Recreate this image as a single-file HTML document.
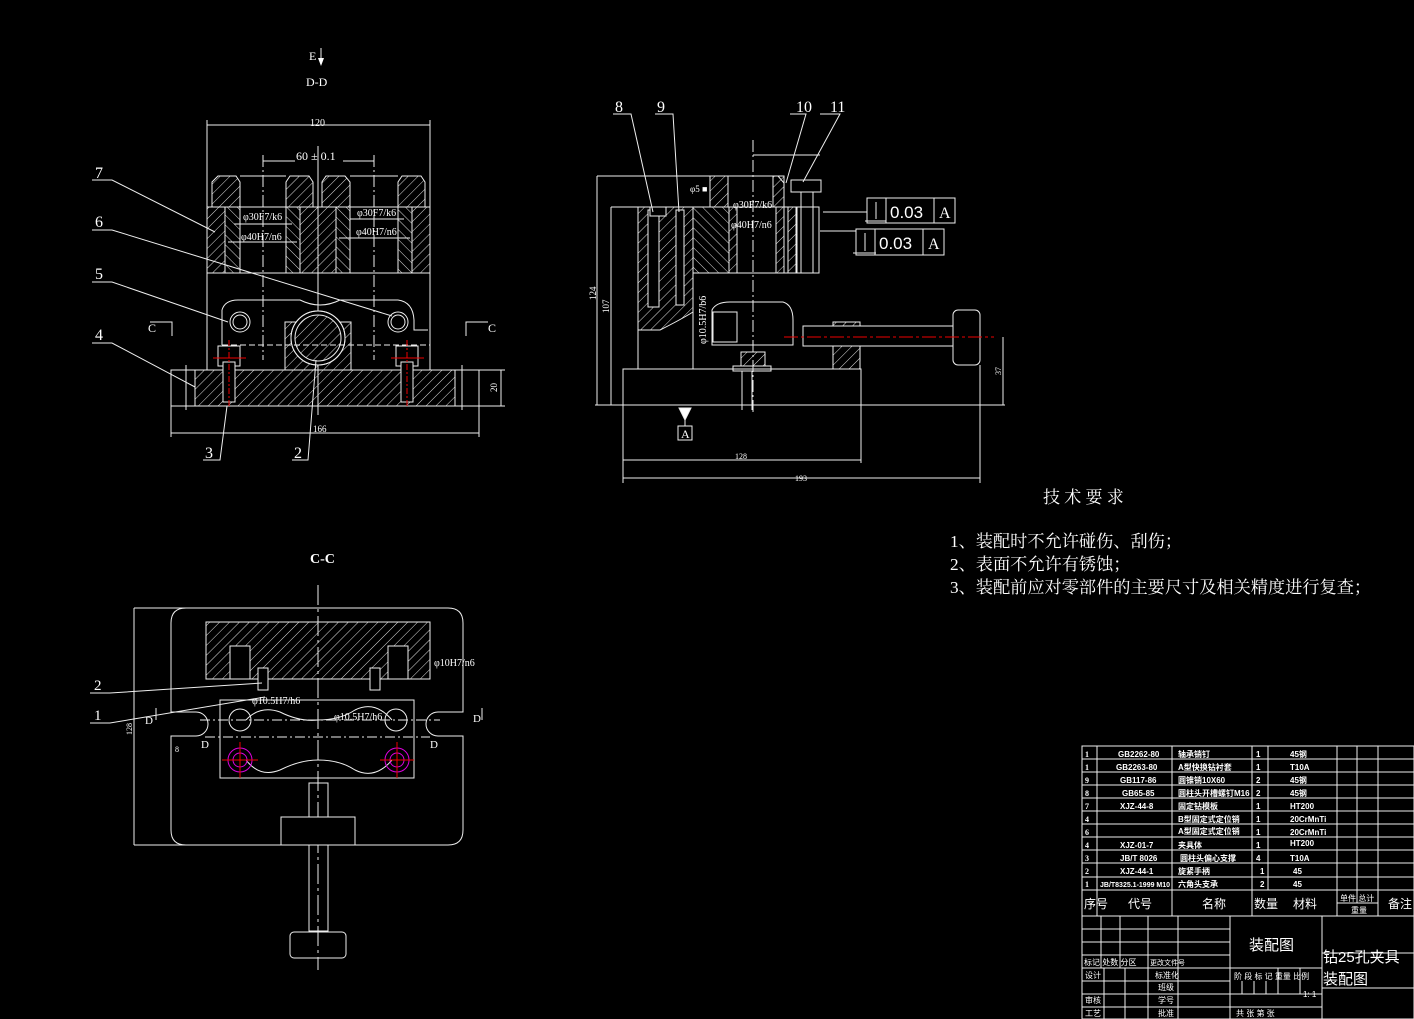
<!DOCTYPE html>
<html><head><meta charset="utf-8"><style>
html,body{margin:0;padding:0;background:#000;}
svg{display:block;}
text{font-family:"Liberation Serif","Noto Serif CJK SC",serif;fill:#fff;}
.s{font-family:"Liberation Sans","Noto Sans CJK SC",sans-serif;}
.t{font-family:"Liberation Serif","Noto Serif CJK SC",serif;}
</style></head><body>
<svg width="1414" height="1019" viewBox="0 0 1414 1019" xmlns="http://www.w3.org/2000/svg">
<defs>
<pattern id="h" width="7" height="7" patternUnits="userSpaceOnUse" patternTransform="rotate(45)"><line x1="0" y1="0" x2="0" y2="7" stroke="#ddd" stroke-width="1"/></pattern>
<pattern id="h2" width="7" height="7" patternUnits="userSpaceOnUse" patternTransform="rotate(-45)"><line x1="0" y1="0" x2="0" y2="7" stroke="#ddd" stroke-width="1"/></pattern>
</defs>
<rect width="1414" height="1019" fill="#000"/>
<g stroke="#eee" stroke-width="1" fill="none">
<!-- ===== Top-left view D-D ===== -->
<line x1="207" y1="120" x2="207" y2="207"/><line x1="430" y1="120" x2="430" y2="207"/>
<line x1="207" y1="125" x2="430" y2="125"/>
<line x1="263" y1="155" x2="263" y2="360" stroke-dasharray="12,3,2,3"/><line x1="374" y1="155" x2="374" y2="360" stroke-dasharray="12,3,2,3"/>
<line x1="263" y1="161" x2="295" y2="161"/><line x1="343" y1="161" x2="374" y2="161"/>
<line x1="318" y1="146" x2="318" y2="415"/>
<path d="M212,207 L212,182 L218,176 L236,176 L240,182 L240,207 Z" fill="url(#h)"/>
<path d="M286,207 L286,182 L290,176 L309,176 L313,182 L313,207 Z" fill="url(#h)"/>
<path d="M322,207 L322,182 L326,176 L345,176 L350,182 L350,207 Z" fill="url(#h)"/>
<path d="M398,207 L398,182 L402,176 L421,176 L425,182 L425,207 Z" fill="url(#h)"/>
<line x1="240" y1="176" x2="286" y2="176"/><line x1="350" y1="176" x2="398" y2="176"/>
<rect x="207" y="207" width="223" height="66"/>
<rect x="207" y="207" width="18" height="66" fill="url(#h)"/>
<rect x="225" y="207" width="15" height="66" fill="url(#h2)"/>
<rect x="286" y="207" width="14" height="66" fill="url(#h2)"/>
<rect x="300" y="207" width="36" height="66" fill="url(#h)"/>
<rect x="336" y="207" width="14" height="66" fill="url(#h2)"/>
<rect x="398" y="207" width="14" height="66" fill="url(#h2)"/>
<rect x="412" y="207" width="18" height="66" fill="url(#h)"/>
<line x1="234" y1="224" x2="292" y2="224"/><line x1="350" y1="219" x2="404" y2="219"/>
<line x1="228" y1="242" x2="297" y2="242"/><line x1="339" y1="238" x2="410" y2="238"/>
<line x1="207" y1="273" x2="207" y2="370"/><line x1="430" y1="273" x2="430" y2="370"/>
<path d="M222,345 L222,310 Q225,300 238,300 L300,300 Q310,305 320,305 Q330,305 340,300 L398,300 Q413,302 414,320 L414,330 L428,330"/>
<circle cx="240" cy="322" r="10"/><circle cx="240" cy="322" r="7"/>
<circle cx="398" cy="322" r="10"/><circle cx="398" cy="322" r="7"/>
<rect x="285" y="322" width="66" height="48" fill="url(#h)"/>
<circle cx="318" cy="338" r="27" fill="#000"/><circle cx="318" cy="338" r="27"/><circle cx="318" cy="338" r="23" fill="url(#h)"/>
<line x1="222" y1="345" x2="430" y2="345" stroke-dasharray="6,3"/>
<rect x="171" y="370" width="308" height="36"/>
<rect x="195" y="370" width="260" height="36" fill="url(#h)"/>
<rect x="218" y="346" width="22" height="20" fill="#000"/><rect x="218" y="346" width="22" height="20"/>
<rect x="396" y="346" width="22" height="20" fill="#000"/><rect x="396" y="346" width="22" height="20"/>
<rect x="223" y="362" width="12" height="40" fill="#000"/><rect x="401" y="362" width="12" height="40" fill="#000"/>
<rect x="223" y="362" width="12" height="40"/><rect x="401" y="362" width="12" height="40"/>
<line x1="229" y1="340" x2="229" y2="408" stroke="#e00" stroke-dasharray="6,2,2,2"/><line x1="407" y1="340" x2="407" y2="408" stroke="#e00" stroke-dasharray="6,2,2,2"/>
<line x1="213" y1="358" x2="246" y2="358" stroke="#e00"/><line x1="391" y1="358" x2="424" y2="358" stroke="#e00"/>
<line x1="171" y1="406" x2="171" y2="437"/><line x1="479" y1="406" x2="479" y2="437"/>
<line x1="171" y1="433" x2="479" y2="433"/>
<line x1="186" y1="365" x2="186" y2="410"/><line x1="462" y1="365" x2="462" y2="410"/>
<line x1="479" y1="370" x2="505" y2="370"/><line x1="479" y1="406" x2="505" y2="406"/><line x1="501" y1="370" x2="501" y2="406"/>
<polyline points="92,180 112,180 215,232"/>
<polyline points="92,230 112,230 392,316"/>
<polyline points="92,282 112,282 228,322"/>
<polyline points="92,343 112,343 195,387"/>
<polyline points="203,460 220,460 227,406"/>
<polyline points="292,460 308,460 316,360"/>
<polyline points="150,322 172,322 172,336"/><polyline points="488,322 466,322 466,336"/>
<line x1="321" y1="48" x2="321" y2="62"/>
<!-- ===== Right view ===== -->
<line x1="597" y1="176" x2="597" y2="405"/><line x1="597" y1="176" x2="720" y2="176"/>
<line x1="611" y1="207" x2="611" y2="405"/><line x1="611" y1="207" x2="640" y2="207"/>
<line x1="595" y1="405" x2="1005" y2="405"/>
<rect x="623" y="369" width="238" height="36"/>
<line x1="623" y1="405" x2="623" y2="483"/><line x1="861" y1="405" x2="861" y2="463"/><line x1="980" y1="365" x2="980" y2="483"/>
<line x1="623" y1="460" x2="861" y2="460"/><line x1="623" y1="478" x2="980" y2="478"/>
<line x1="1003" y1="337" x2="1003" y2="405"/>
<path d="M638,207 L693,207 L693,312 Q680,320 660,330 L638,330 Z" fill="url(#h)"/>
<line x1="638" y1="330" x2="638" y2="369"/><line x1="693" y1="312" x2="693" y2="369"/>
<rect x="648" y="210" width="11" height="97" fill="#000"/><rect x="648" y="210" width="11" height="97"/>
<rect x="650" y="207" width="16" height="9" fill="#000"/><rect x="650" y="207" width="16" height="9"/>
<rect x="676" y="210" width="8" height="95" fill="#000"/><rect x="676" y="210" width="8" height="95"/>
<rect x="693" y="207" width="126" height="66"/>
<rect x="693" y="207" width="36" height="66" fill="url(#h2)"/>
<rect x="729" y="207" width="8" height="66" fill="url(#h)"/>
<rect x="776" y="207" width="8" height="66" fill="url(#h)"/>
<path d="M710,207 L710,176 L778,176 L784,183 L784,207" />
<rect x="710" y="176" width="18" height="31" fill="url(#h)"/><rect x="773" y="176" width="11" height="31" fill="url(#h)"/>
<rect x="784" y="207" width="35" height="66" fill="#000"/>
<rect x="788" y="207" width="8" height="66" fill="url(#h)"/><rect x="797" y="207" width="22" height="66"/>
<rect x="791" y="180" width="30" height="12"/><line x1="801" y1="192" x2="801" y2="273"/><line x1="813" y1="192" x2="813" y2="273"/>
<line x1="753" y1="140" x2="753" y2="415" stroke-dasharray="12,3,2,3"/>
<line x1="753" y1="155" x2="820" y2="155"/>
<line x1="823" y1="212" x2="867" y2="212"/><line x1="820" y1="231" x2="856" y2="231"/>
<rect x="867" y="198" width="88" height="25"/><line x1="886" y1="198" x2="886" y2="223"/><line x1="934" y1="198" x2="934" y2="223"/>
<rect x="856" y="229" width="88" height="26"/><line x1="875" y1="229" x2="875" y2="255"/><line x1="923" y1="229" x2="923" y2="255"/>
<line x1="876" y1="202" x2="876" y2="219"/><line x1="865" y1="221" x2="886" y2="221"/>
<line x1="865" y1="233" x2="865" y2="251"/><line x1="853" y1="253" x2="876" y2="253"/>
<path d="M712,345 L712,310 Q716,302 730,302 L783,302 Q793,305 793,320 L793,345 Z"/>
<rect x="713" y="312" width="24" height="30"/>
<rect x="803" y="326" width="150" height="20"/>
<rect x="833" y="322" width="27" height="4" fill="url(#h)"/><rect x="833" y="346" width="27" height="23" fill="url(#h)"/>
<rect x="953" y="310" width="27" height="55" rx="5"/>
<line x1="784" y1="337" x2="994" y2="337" stroke="#e00" stroke-dasharray="14,3,3,3"/>
<rect x="741" y="352" width="24" height="14" fill="url(#h)"/><rect x="733" y="366" width="38" height="5"/>
<line x1="742" y1="371" x2="742" y2="410"/><line x1="752" y1="371" x2="752" y2="410"/>
<polyline points="613,114 631,114 653,212"/><polyline points="655,114 673,114 679,212"/>
<polyline points="790,114 806,114 786,183"/><polyline points="820,114 840,114 803,182"/>
<path d="M679,408 L691,408 L685,420 Z" fill="#fff"/><line x1="685" y1="420" x2="685" y2="426"/><rect x="678" y="426" width="14" height="14"/>
<!-- ===== Bottom view C-C ===== -->
<line x1="318" y1="585" x2="318" y2="970" stroke-dasharray="20,4,3,4"/>
<path d="M186,608 L448,608 Q463,608 463,623 L463,712 L438,712 A12,12 0 0 0 438,736 L463,736 L463,830 Q463,845 448,845 L186,845 Q171,845 171,830 L171,736 L196,736 A12,12 0 0 0 196,712 L171,712 L171,623 Q171,608 186,608 Z"/>
<line x1="134" y1="608" x2="186" y2="608"/><line x1="134" y1="845" x2="186" y2="845"/><line x1="134" y1="608" x2="134" y2="845"/>
<rect x="206" y="622" width="224" height="57" fill="url(#h)"/>
<rect x="230" y="646" width="20" height="33" fill="#000"/><rect x="230" y="646" width="20" height="33"/>
<rect x="388" y="646" width="20" height="33" fill="#000"/><rect x="388" y="646" width="20" height="33"/>
<rect x="258" y="668" width="10" height="22" fill="#000"/><rect x="258" y="668" width="10" height="22"/>
<rect x="370" y="668" width="10" height="22" fill="#000"/><rect x="370" y="668" width="10" height="22"/>
<path d="M220,700 L414,700 L414,778 L220,778 Z"/>
<path d="M246,720 Q260,705 280,712 Q300,722 318,720 Q340,720 355,710 Q375,700 392,720"/>
<path d="M246,760 Q260,778 280,770 Q300,760 318,760 Q340,760 355,770 Q375,780 392,760"/>
<circle cx="240" cy="720" r="11"/><circle cx="396" cy="720" r="11"/>
<circle cx="240" cy="760" r="12" stroke="#d0d"/><circle cx="240" cy="760" r="7" stroke="#d0d"/>
<circle cx="397" cy="760" r="12" stroke="#d0d"/><circle cx="397" cy="760" r="7" stroke="#d0d"/>
<line x1="222" y1="760" x2="258" y2="760" stroke="#e00"/><line x1="240" y1="742" x2="240" y2="778" stroke="#e00"/>
<line x1="380" y1="760" x2="414" y2="760" stroke="#e00"/><line x1="397" y1="742" x2="397" y2="778" stroke="#e00"/>
<line x1="205" y1="737" x2="430" y2="737" stroke-dasharray="10,3,2,3"/>
<line x1="200" y1="720" x2="440" y2="720" stroke-dasharray="10,3,2,3"/>
<rect x="309" y="783" width="19" height="148"/>
<rect x="281" y="817" width="74" height="28" fill="#000"/><rect x="281" y="817" width="74" height="28"/>
<rect x="290" y="932" width="56" height="26" rx="4"/>
<polyline points="90,693 110,693 262,683"/><polyline points="90,723 110,723 265,697"/>
<polyline points="156,720 156,708"/><polyline points="482,720 482,708"/>
<rect x="1082" y="746" width="332" height="273"/>
</g>
<path d="M318,58 L324,58 L321,66 Z" fill="#fff"/>
<g stroke="#eee" stroke-width="1">
<line x1="1082" y1="759" x2="1337" y2="759"/><line x1="1082" y1="772" x2="1337" y2="772"/><line x1="1082" y1="785" x2="1337" y2="785"/><line x1="1082" y1="798" x2="1337" y2="798"/><line x1="1082" y1="811" x2="1337" y2="811"/><line x1="1082" y1="824" x2="1337" y2="824"/><line x1="1082" y1="837" x2="1337" y2="837"/><line x1="1082" y1="850" x2="1337" y2="850"/><line x1="1082" y1="863" x2="1337" y2="863"/><line x1="1082" y1="877" x2="1337" y2="877"/><line x1="1082" y1="890" x2="1414" y2="890"/>
<line x1="1337" y1="759" x2="1414" y2="759"/><line x1="1337" y1="772" x2="1414" y2="772"/><line x1="1337" y1="785" x2="1414" y2="785"/><line x1="1337" y1="798" x2="1414" y2="798"/><line x1="1337" y1="811" x2="1414" y2="811"/><line x1="1337" y1="824" x2="1414" y2="824"/><line x1="1337" y1="837" x2="1414" y2="837"/><line x1="1337" y1="850" x2="1414" y2="850"/><line x1="1337" y1="863" x2="1414" y2="863"/><line x1="1337" y1="877" x2="1414" y2="877"/>
<line x1="1082" y1="916" x2="1414" y2="916"/><line x1="1337" y1="903" x2="1378" y2="903"/>
<line x1="1097" y1="746" x2="1097" y2="916"/><line x1="1172" y1="746" x2="1172" y2="916"/><line x1="1252" y1="746" x2="1252" y2="916"/><line x1="1268" y1="746" x2="1268" y2="890"/><line x1="1337" y1="746" x2="1337" y2="916"/><line x1="1357" y1="746" x2="1357" y2="903"/><line x1="1378" y1="746" x2="1378" y2="916"/>
<line x1="1082" y1="929" x2="1230" y2="929"/><line x1="1082" y1="942" x2="1230" y2="942"/><line x1="1082" y1="955" x2="1230" y2="955"/><line x1="1082" y1="968" x2="1322" y2="968"/><line x1="1082" y1="981" x2="1230" y2="981"/><line x1="1082" y1="994" x2="1322" y2="994"/><line x1="1082" y1="1007" x2="1322" y2="1007"/>
<line x1="1322" y1="953" x2="1414" y2="953"/><line x1="1322" y1="988" x2="1414" y2="988"/>
<line x1="1101" y1="916" x2="1101" y2="968"/><line x1="1120" y1="916" x2="1120" y2="968"/><line x1="1148" y1="916" x2="1148" y2="1019"/><line x1="1178" y1="916" x2="1178" y2="1019"/><line x1="1104" y1="968" x2="1104" y2="1019"/><line x1="1125" y1="968" x2="1125" y2="1019"/>
<line x1="1230" y1="916" x2="1230" y2="1019"/><line x1="1322" y1="916" x2="1322" y2="1019"/>
<line x1="1242" y1="981" x2="1242" y2="994"/><line x1="1254" y1="981" x2="1254" y2="994"/><line x1="1266" y1="981" x2="1266" y2="994"/><line x1="1278" y1="968" x2="1278" y2="994"/><line x1="1300" y1="968" x2="1300" y2="994"/>
</g>
<g font-size="11">
<text x="309" y="60" font-size="12">E</text>
<text x="306" y="86" font-size="12">D-D</text>
<text x="310" y="126" font-size="10">120</text>
<text x="296" y="160" font-size="12">60 ± 0.1</text>
<text x="243" y="220" font-size="10">φ30F7/k6</text><text x="357" y="216" font-size="10">φ30F7/k6</text>
<text x="241" y="240" font-size="10">φ40H7/n6</text><text x="356" y="235" font-size="10">φ40H7/n6</text>
<text x="95" y="178" font-size="16">7</text><text x="95" y="227" font-size="16">6</text><text x="95" y="279" font-size="16">5</text><text x="95" y="340" font-size="16">4</text>
<text x="205" y="458" font-size="16">3</text><text x="294" y="458" font-size="16">2</text>
<text x="148" y="332" font-size="12">C</text><text x="488" y="332" font-size="12">C</text>
<text x="313" y="432" font-size="9">166</text>
<text x="497" y="392" font-size="9" transform="rotate(-90 497 392)">20</text>
<text x="615" y="112" font-size="16">8</text><text x="657" y="112" font-size="16">9</text><text x="796" y="112" font-size="16">10</text><text x="830" y="112" font-size="16">11</text>
<text x="690" y="192" font-size="9">φ5 ■</text>
<text x="733" y="208" font-size="10">φ30F7/k6</text><text x="731" y="228" font-size="10">φ40H7/n6</text>
<text x="890" y="218" font-size="17" class="s">0.03</text><text x="939" y="218" font-size="16">A</text>
<text x="879" y="249" font-size="17" class="s">0.03</text><text x="928" y="249" font-size="16">A</text>
<text x="681" y="438" font-size="12">A</text>
<text x="735" y="459" font-size="8">128</text><text x="795" y="481" font-size="8">193</text>
<text x="596" y="300" font-size="9" transform="rotate(-90 596 300)">124</text>
<text x="609" y="313" font-size="9" transform="rotate(-90 609 313)">107</text>
<text x="706" y="344" font-size="10" transform="rotate(-90 706 344)">φ10.5H7/b6</text>
<text x="1001" y="375" font-size="8" transform="rotate(-90 1001 375)">37</text>
<text x="310" y="563" font-size="14" font-weight="bold">C-C</text>
<text x="94" y="690" font-size="15">2</text><text x="94" y="720" font-size="15">1</text>
<text x="252" y="704" font-size="10">φ10.5H7/h6</text><text x="334" y="720" font-size="10">φ10.5H7/h6</text>
<text x="434" y="666" font-size="10">φ10H7/n6</text>
<text x="145" y="724" font-size="11">D</text><text x="201" y="748" font-size="11">D</text><text x="430" y="748" font-size="11">D</text><text x="473" y="722" font-size="11">D</text>
<text x="175" y="752" font-size="8">8</text>
<text x="132" y="735" font-size="8" transform="rotate(-90 132 735)">128</text>
</g>
<g>
<text x="1043" y="503" font-size="17" class="t">技 术 要 求</text>
<text x="950" y="547" font-size="17.2" class="t">1、装配时不允许碰伤、刮伤；</text>
<text x="950" y="570" font-size="17.2" class="t">2、表面不允许有锈蚀；</text>
<text x="950" y="593" font-size="17.2" class="t">3、装配前应对零部件的主要尺寸及相关精度进行复查；</text>
</g>
<g font-size="8" class="s" font-weight="bold">
<text x="1118" y="757" class="s">GB2262-80</text><text x="1178" y="757" class="s">轴承销钉</text><text x="1256" y="757" class="s">1</text><text x="1290" y="757" class="s">45钢</text>
<text x="1116" y="770" class="s">GB2263-80</text><text x="1178" y="770" class="s">A型快换钻衬套</text><text x="1256" y="770" class="s">1</text><text x="1290" y="770" class="s">T10A</text>
<text x="1120" y="783" class="s">GB117-86</text><text x="1178" y="783" class="s">圆锥销10X60</text><text x="1256" y="783" class="s">2</text><text x="1290" y="783" class="s">45钢</text>
<text x="1122" y="796" class="s">GB65-85</text><text x="1178" y="796" class="s">圆柱头开槽螺钉M16</text><text x="1256" y="796" class="s">2</text><text x="1290" y="796" class="s">45钢</text>
<text x="1120" y="809" class="s">XJZ-44-8</text><text x="1178" y="809" class="s">固定钻模板</text><text x="1256" y="809" class="s">1</text><text x="1290" y="809" class="s">HT200</text>
<text x="1178" y="822" class="s">B型固定式定位销</text><text x="1256" y="822" class="s">1</text><text x="1290" y="822" class="s">20CrMnTi</text>
<text x="1178" y="834" class="s">A型固定式定位销</text><text x="1256" y="835" class="s">1</text><text x="1290" y="835" class="s">20CrMnTi</text>
<text x="1120" y="848" class="s">XJZ-01-7</text><text x="1178" y="848" class="s">夹具体</text><text x="1256" y="848" class="s">1</text><text x="1290" y="846" class="s">HT200</text>
<text x="1120" y="861" class="s">JB/T 8026</text><text x="1180" y="861" class="s">圆柱头偏心支撑</text><text x="1256" y="861" class="s">4</text><text x="1290" y="861" class="s">T10A</text>
<text x="1120" y="874" class="s">XJZ-44-1</text><text x="1178" y="874" class="s">旋紧手柄</text><text x="1260" y="874" class="s">1</text><text x="1293" y="874" class="s">45</text>
<text x="1100" y="887" class="s" font-size="7">JB/T8325.1-1999 M10</text><text x="1178" y="887" class="s">六角头支承</text><text x="1260" y="887" class="s">2</text><text x="1293" y="887" class="s">45</text>
<text x="1085" y="757">1</text><text x="1085" y="770">1</text><text x="1085" y="783">9</text><text x="1085" y="796">8</text><text x="1085" y="809">7</text><text x="1085" y="822">4</text><text x="1085" y="835">6</text><text x="1085" y="848">4</text><text x="1085" y="861">3</text><text x="1085" y="874">2</text><text x="1085" y="887">1</text>
</g>
<g>
<text x="1084" y="908" font-size="12" class="s">序号</text><text x="1128" y="908" font-size="12" class="s">代号</text><text x="1202" y="908" font-size="12" class="s">名称</text><text x="1254" y="908" font-size="12" class="s">数量</text><text x="1293" y="908" font-size="12" class="s">材料</text>
<text x="1340" y="901" font-size="8" class="s">单件 总计</text><text x="1351" y="913" font-size="8" class="s">重量</text><text x="1388" y="908" font-size="12" class="s">备注</text>
<text x="1249" y="950" font-size="15" class="s">装配图</text>
<text x="1323" y="962" font-size="15" class="s">钻25孔夹具</text>
<text x="1323" y="984" font-size="15" class="s">装配图</text>
<text x="1084" y="965" font-size="8" class="s">标记 处数 分区</text><text x="1150" y="965" font-size="7" class="s">更改文件号</text>
<text x="1085" y="978" font-size="8" class="s">设计</text><text x="1155" y="978" font-size="8" class="s">标准化</text>
<text x="1158" y="990" font-size="8" class="s">班级</text>
<text x="1085" y="1003" font-size="8" class="s">审核</text><text x="1158" y="1003" font-size="8" class="s">学号</text>
<text x="1085" y="1016" font-size="8" class="s">工艺</text><text x="1158" y="1016" font-size="8" class="s">批准</text>
<text x="1234" y="979" font-size="8" class="s">阶 段 标 记  重量  比例</text>
<text x="1303" y="997" font-size="8" class="s">1: 1</text>
<text x="1236" y="1016" font-size="8" class="s">共     张   第     张</text>
</g>
</svg>
</body></html>
